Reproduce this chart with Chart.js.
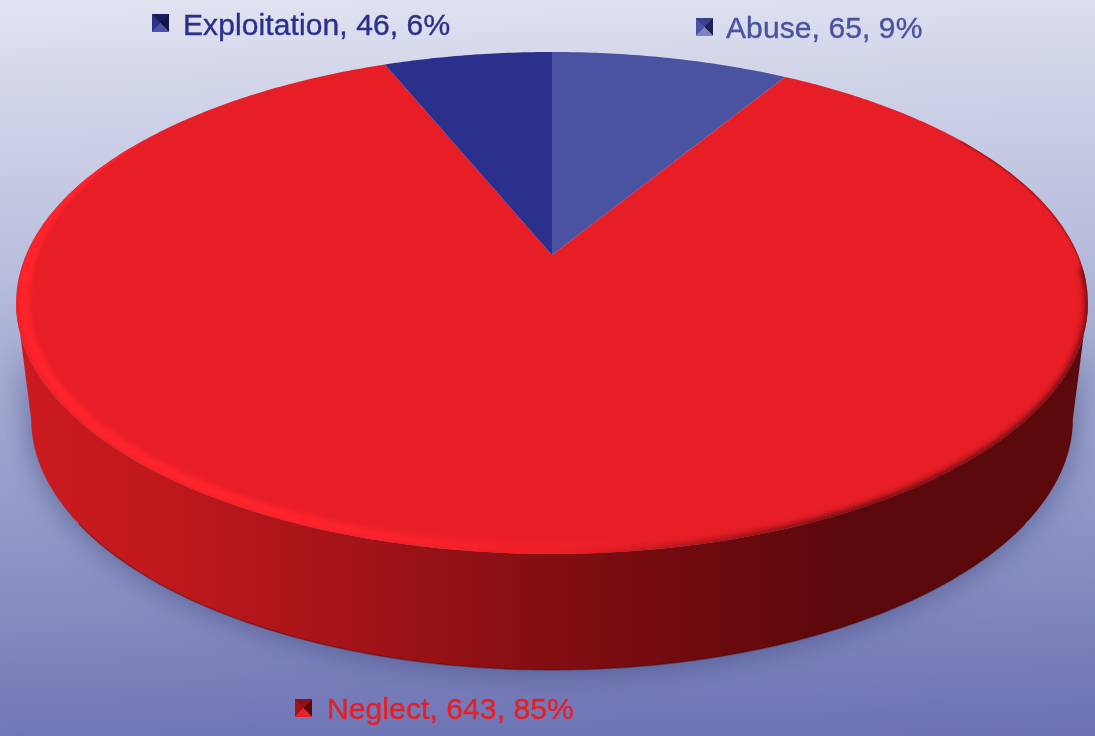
<!DOCTYPE html>
<html>
<head>
<meta charset="utf-8">
<title>Pie</title>
<script src="https://cdn.jsdelivr.net/npm/chart.js@4/dist/chart.umd.min.js"></script>
<style>
  html, body { margin:0; padding:0; width:1095px; height:736px; overflow:hidden; }
  body { position:relative; background:linear-gradient(178deg,#e2e4f2 0,#d5d8ea 10%,#bcc1df 32%,#a3aad2 52%,#8d95c6 72%,#6b71b2 100%); }
  canvas { position:absolute; left:0; top:0; }
  .lbl { position:absolute; font:30px "Liberation Sans", Arial, sans-serif; -webkit-text-stroke:.4px currentColor; letter-spacing:.1px; white-space:nowrap; line-height:34px; }
  .mark { position:absolute; width:17px; height:18px; }
</style>
</head>
<body>
<canvas id="chart" width="1095" height="736"></canvas>
<script>
const categories = ['Abuse', 'Neglect', 'Exploitation'];
const values = [65, 643, 46];
const sliceColors = ['#4a53a1', '#e81e26', '#2b308c'];
const labelColors = ['#4a53a1', '#e81e26', '#2b308c'];

// marker faces: top, right, bottom, left
const markFaces = [
  ['#39408c', '#1e2250', '#7d84bd', '#4a53a1'],
  ['#8f0f14', '#5c080b', '#e8242b', '#a81318'],
  ['#1a1d5c', '#14164a', '#4e54a2', '#2b308c']
];
const labelPos = [
  { mx:696, my:18, tx:726, ty:11 },
  { mx:295, my:699, tx:327, ty:692 },
  { mx:152, my:14, tx:183, ty:8 }
];

// perspective disc, apex of the pie sits at cx,cy
const disc = { cx:552, cy:255, a:526, b:241.8, p:0.191 };
const wallDepth = 116;
const wallShrink = 0.972;

function project(ang, r, drop) {
  const u = Math.cos(ang) * r, v = Math.sin(ang) * r;
  const w = 1 - disc.p * v;
  const k = drop ? wallShrink : 1;
  return { x: disc.cx + disc.a * k * u / w, y: disc.cy + (drop ? wallDepth : 0) + disc.b * v / w };
}

function rimPath(ctx, from, to, r, drop, first) {
  const n = Math.max(4, Math.ceil(Math.abs(to - from) * 90));
  for (let i = 0; i <= n; i++) {
    const p = project(from + (to - from) * i / n, r, drop);
    if (i === 0 && first) ctx.moveTo(p.x, p.y); else ctx.lineTo(p.x, p.y);
  }
}

const pie3d = {
  id: 'pie3d',
  beforeDatasetDraw(chart, args) {
    const ctx = chart.ctx;
    const arcs = chart.getDatasetMeta(args.index).data;

    // side wall, only what faces the viewer (between the two side tangents)
    const wall = ctx.createLinearGradient(15, 0, 1090, 0);
    wall.addColorStop(0, '#cb1b20');
    wall.addColorStop(0.14, '#bf181c');
    wall.addColorStop(0.3, '#a61418');
    wall.addColorStop(0.5, '#820e12');
    wall.addColorStop(0.65, '#6c0a0e');
    wall.addColorStop(0.78, '#5a080b');
    wall.addColorStop(1, '#5c090c');
    const frontFrom = Math.asin(disc.p), frontTo = Math.PI - frontFrom;
    arcs.forEach(arc => {
      const from = Math.max(arc.startAngle, frontFrom), to = Math.min(arc.endAngle, frontTo);
      if (to <= from) return;
      ctx.save();
      ctx.beginPath();
      rimPath(ctx, from, to, 1, false, true);
      rimPath(ctx, to, from, 1, true, false);
      ctx.closePath();
      ctx.shadowColor = 'rgba(40,48,100,.55)';
      ctx.shadowBlur = 32;
      ctx.fillStyle = wall;
      ctx.fill();
      ctx.restore();
    });

    // thin dark line along the foot of the wall
    ctx.save();
    ctx.beginPath();
    rimPath(ctx, 0.6, Math.PI - 0.6, 1, true, true);
    ctx.strokeStyle = 'rgba(70,5,8,.4)';
    ctx.lineWidth = 1.5;
    ctx.stroke();
    ctx.restore();

    // top face
    arcs.forEach(arc => {
      ctx.beginPath();
      ctx.moveTo(disc.cx, disc.cy);
      rimPath(ctx, arc.startAngle, arc.endAngle, 1, false, false);
      ctx.closePath();
      ctx.fillStyle = arc.options.backgroundColor;
      ctx.fill();
    });

    // bevel on the big slice: bright on the left, dark on the right
    const big = arcs[1];
    ctx.save();
    ctx.beginPath();
    ctx.moveTo(disc.cx, disc.cy);
    rimPath(ctx, big.startAngle, big.endAngle, 1, false, false);
    ctx.closePath();
    ctx.clip();

    const bright = ctx.createLinearGradient(300, 0, 690, 0);
    bright.addColorStop(0, 'rgba(255,36,44,1)');
    bright.addColorStop(1, 'rgba(255,36,44,0)');
    ctx.filter = 'blur(2.5px)';
    ctx.beginPath();
    rimPath(ctx, Math.PI * 0.35, Math.PI * 0.97, 0.986, false, true);
    ctx.strokeStyle = bright;
    ctx.lineWidth = 11;
    ctx.stroke();

    // the bright band tapers off going up the left edge
    ctx.filter = 'blur(1px)';
    ctx.strokeStyle = '#ff242c';
    for (let i = 0; i < 14; i++) {
      const t = i / 14;
      const a0 = Math.PI * (0.965 + 0.2 * t), a1 = Math.PI * (0.965 + 0.2 * (t + 1 / 14) + 0.004);
      ctx.beginPath();
      rimPath(ctx, a0, a1, 0.986 + 0.014 * t, false, true);
      ctx.lineWidth = 11 - 9.5 * t;
      ctx.stroke();
    }

    const dark = ctx.createLinearGradient(560, 0, 820, 0);
    dark.addColorStop(0, 'rgba(85,8,10,0)');
    dark.addColorStop(1, 'rgba(85,8,10,.95)');
    ctx.filter = 'blur(3px)';
    ctx.beginPath();
    rimPath(ctx, Math.PI * 0.62, 0.05, 1.002, false, true);
    ctx.strokeStyle = dark;
    ctx.lineWidth = 7;
    ctx.stroke();

    // thinner dark edge up the right side
    ctx.filter = 'blur(1px)';
    ctx.beginPath();
    rimPath(ctx, 0.1, -0.55, 1.002, false, true);
    ctx.strokeStyle = 'rgba(85,8,10,.7)';
    ctx.lineWidth = 3;
    ctx.stroke();
    ctx.restore();

    return false;
  }
};

new Chart(document.getElementById('chart'), {
  type: 'pie',
  data: {
    labels: categories,
    datasets: [{ data: values, backgroundColor: sliceColors, borderWidth: 0 }]
  },
  options: {
    responsive: false,
    animation: false,
    plugins: { legend: { display: false }, tooltip: { enabled: false } }
  },
  plugins: [pie3d]
});

// labels
const total = values.reduce((a, b) => a + b, 0);
categories.forEach((c, i) => {
  const pos = labelPos[i], f = markFaces[i];
  const m = document.createElement('div');
  m.className = 'mark';
  m.style.cssText = `left:${pos.mx}px;top:${pos.my}px;background:conic-gradient(from -45deg,${f[0]} 0 90deg,${f[1]} 0 180deg,${f[2]} 0 270deg,${f[3]} 0 360deg)`;
  document.body.appendChild(m);
  const t = document.createElement('div');
  t.className = 'lbl';
  t.style.cssText = `left:${pos.tx}px;top:${pos.ty}px;color:${labelColors[i]}`;
  t.textContent = `${c}, ${values[i]}, ${Math.round(values[i] / total * 100)}%`;
  document.body.appendChild(t);
});
</script>
</body>
</html>
